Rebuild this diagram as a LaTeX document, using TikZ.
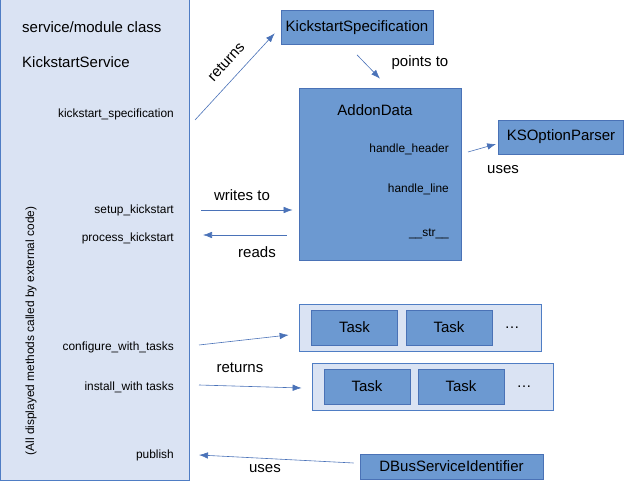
\documentclass[tikz,border=0pt]{standalone}
\usepackage{fontspec}
\setmainfont{Liberation Sans}
\usetikzlibrary{arrows.meta,positioning}

\definecolor{panelfill}{HTML}{DAE3F3}
\definecolor{panelline}{HTML}{4F7DC4}
\definecolor{boxfill}{HTML}{6C99D1}
\definecolor{boxline}{HTML}{4A72B6}
\definecolor{linkcol}{HTML}{4A72B8}

\newcommand\bigtxt{\fontsize{15}{18}\selectfont}
\newcommand\smalltxt{\fontsize{11.9}{14}\selectfont}

\tikzset{
  panel/.style={draw=panelline, fill=panelfill, line width=0.7pt},
  classbox/.style={draw=boxline, fill=boxfill, line width=0.7pt, inner sep=0pt, font=\bigtxt},
  method/.style={anchor=east, inner sep=0pt, font=\smalltxt},
  lbl/.style={inner sep=0pt, font=\bigtxt},
  link/.style={draw=linkcol, line width=0.6pt, -{Latex[length=9pt,width=6.5pt]}}
}

\begin{document}
\begin{tikzpicture}[x=1pt,y=-1pt]
\useasboundingbox (0,0) rectangle (625,486);

% service panel on the left
\fill[panelfill] (0.5,-2) rectangle (189.5,480);
\draw[panelline, line width=0.7pt] (0.5,-2) -- (0.5,480) -- (189.5,480) -- (189.5,-2);
\node[lbl, anchor=west] (svc-kind) at (22,27) {service/module class};
\node[lbl, anchor=west] (svc-name) at (22,62) {KickstartService};
\node[inner sep=0pt, font=\smalltxt, rotate=90] (svc-note) at (31,331) {(All displayed methods called by external code)};
\node[method] (m-spec) at (174,114) {kickstart\_specification};
\node[method] (m-setup) at (174,210) {setup\_kickstart};
\node[method] (m-proc) at (174,238) {process\_kickstart};
\node[method] (m-conf) at (174,347) {configure\_with\_tasks};
\node[method] (m-inst) at (174,387) {install\_with tasks};
\node[method] (m-pub) at (174,455) {publish};

% classes
\node[classbox, minimum width=152, minimum height=34] (spec) at (357,27.5) {KickstartSpecification};
\node[classbox, minimum width=162, minimum height=172] (addon) at (380,174) {};
\node[lbl] (addon-t) at (375,110) {AddonData};
\node[method] (m-hh) at (449,149) {handle\_header};
\node[method] (m-hl) at (449,189) {handle\_line};
\node[method] (m-str) at (449,234) {\_\_str\_\_};
\node[classbox, minimum width=125, minimum height=34] (parser) at (561,137) {KSOptionParser};
\node[classbox, minimum width=183, minimum height=25] (dbus) at (451.5,466.5) {DBusServiceIdentifier};

% task lists
\node[panel, minimum width=242, minimum height=47] (grpA) at (420,327.5) {};
\node[panel, minimum width=241, minimum height=47] (grpB) at (432.5,386.5) {};
\foreach \x/\n in {354.5/1,449/2} \node[classbox, minimum width=86, minimum height=35] (taskA\n) at (\x,327.5) {Task};
\foreach \x/\n in {367/1,461/2} \node[classbox, minimum width=86, minimum height=35] (taskB\n) at (\x,386.5) {Task};
\node[inner sep=0pt, font=\bigtxt] (dotsA) at (512,328) {\dots};
\node[inner sep=0pt, font=\bigtxt] (dotsB) at (524,387) {\dots};

% connectors
\draw[link] ([xshift=21pt,yshift=-6pt]m-spec.east) -- node[lbl, sloped, above=11pt, pos=0.54] (l-ret) {returns} ([xshift=-6pt,yshift=11.5pt]spec.south west);
\draw[link] ([yshift=-10pt]spec.south) -- ([yshift=9pt]addon.north);
\node[lbl] (l-points) at (420,63) {points to};
\draw[link] ([xshift=19pt,yshift=-3pt]m-hh.east) -- ([xshift=-2pt,yshift=-7pt]parser.west);
\node[lbl] (l-uses1) at (503,170) {uses};
\draw[link, shorten <=27pt, shorten >=6pt] (m-setup.east) -- (m-setup.east -| addon.west);
\node[lbl] (l-writes) at (242,195) {writes to};
\draw[link, shorten <=12pt, shorten >=29pt] ([yshift=3pt]m-proc.east -| addon.west) -- ([yshift=3pt]m-proc.east);
\node[lbl] (l-reads) at (257,252) {reads};
\draw[link] ([xshift=25pt,yshift=2pt]m-conf.east) -- ([xshift=-10pt,yshift=-7.5pt]grpA.west);
\draw[link] ([xshift=25pt,yshift=2pt]m-inst.east) -- ([xshift=-10pt,yshift=-1.5pt]grpB.west);
\node[lbl] (l-ret2) at (240,368) {returns};
\draw[link] ([xshift=-6pt,yshift=3.5pt]dbus.west) -- ([xshift=25pt]m-pub.east);
\node[lbl] (l-uses2) at (265,469) {uses};
\end{tikzpicture}
\end{document}
